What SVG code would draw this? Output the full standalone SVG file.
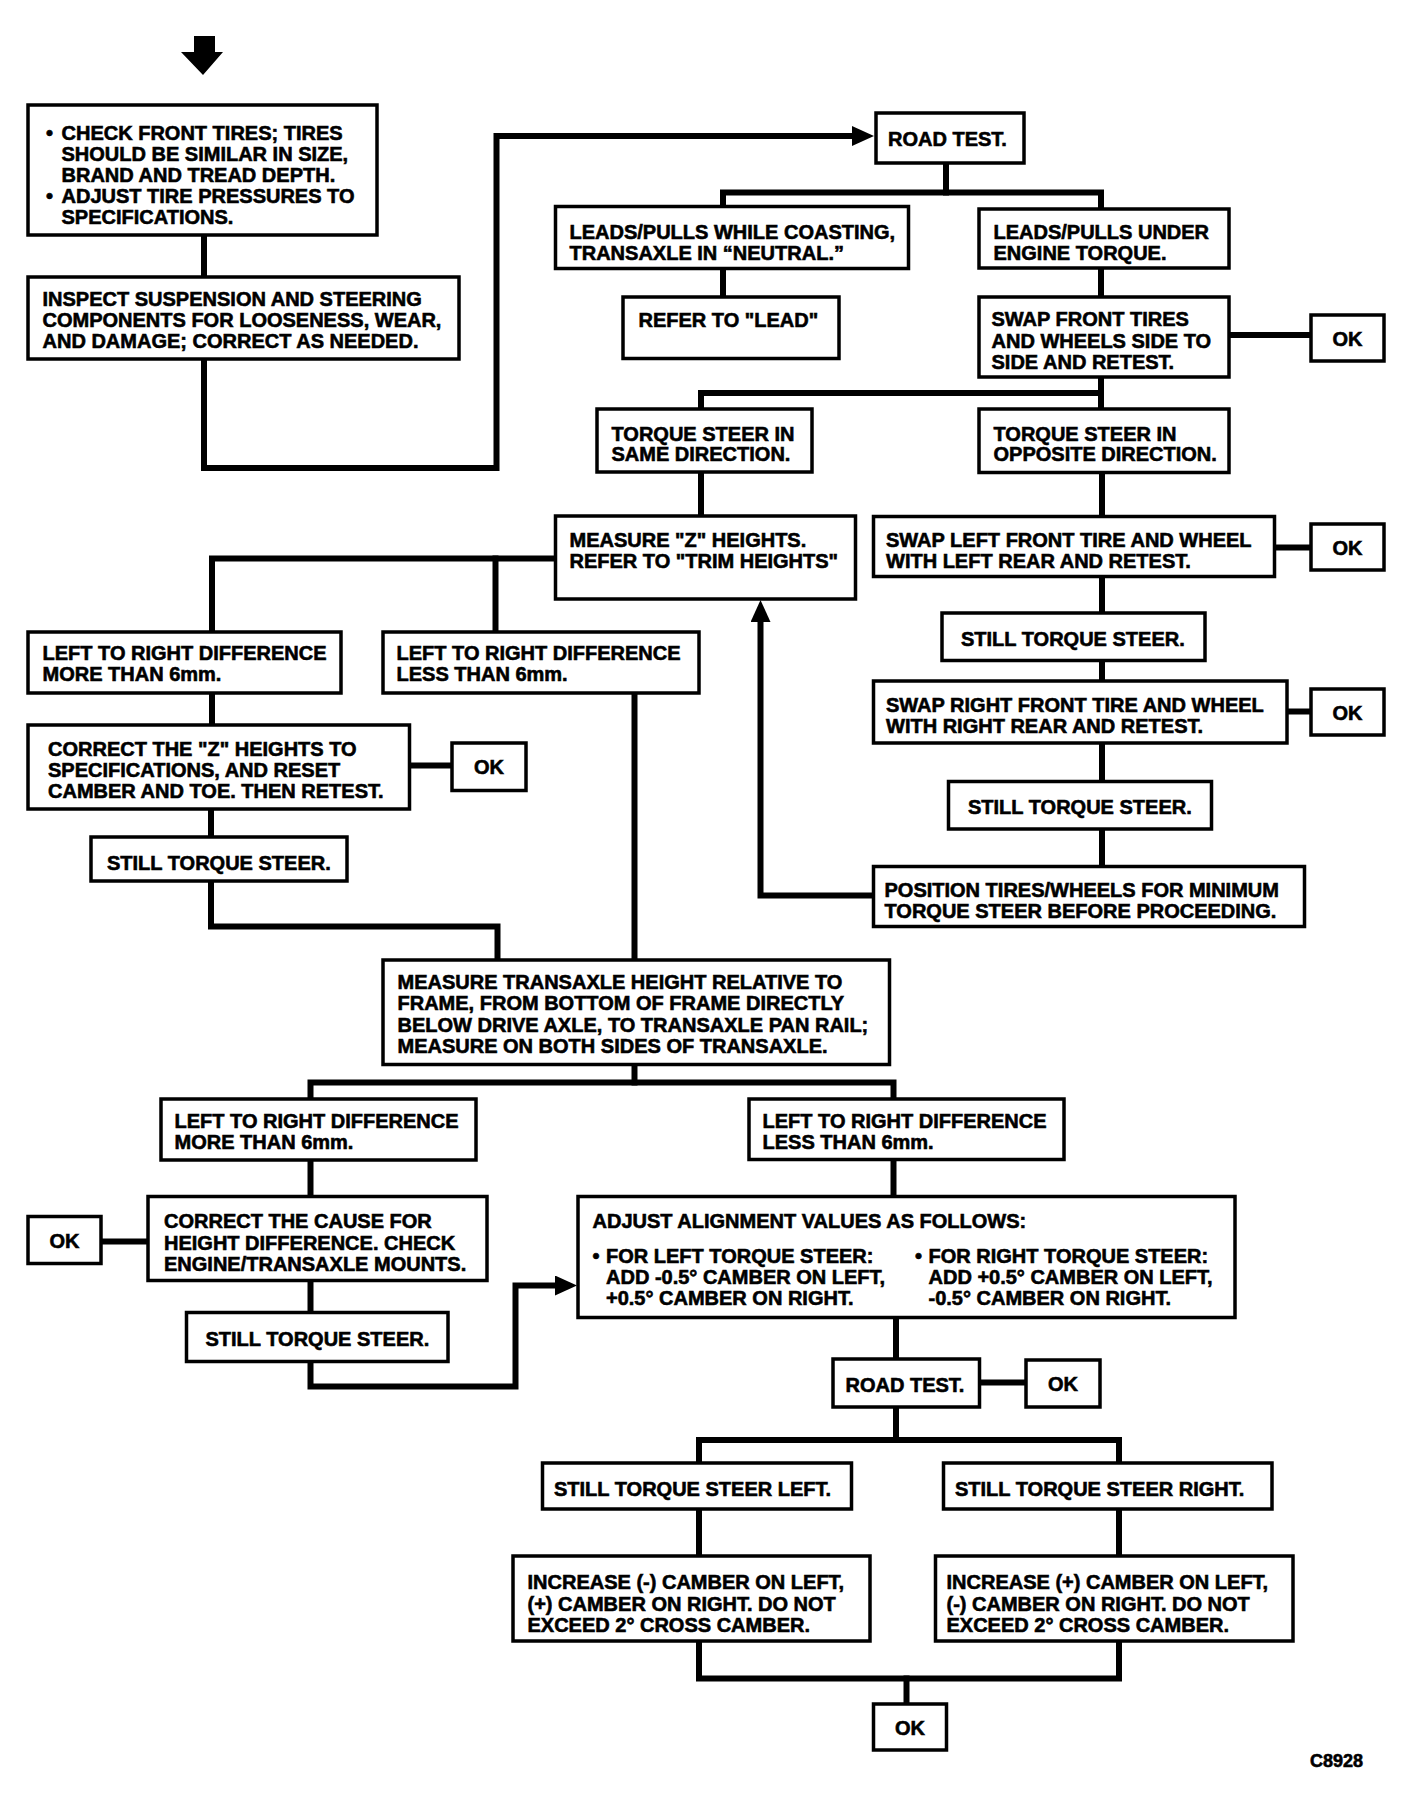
<svg xmlns="http://www.w3.org/2000/svg" width="1408" height="1796" viewBox="0 0 1408 1796">
<defs>
<style>
.b{fill:#fff;stroke:#000;stroke-width:3.5}
.c{fill:none;stroke:#000;stroke-width:6;stroke-linejoin:miter;stroke-linecap:square}
.t{font-family:"Liberation Sans",Arial,Helvetica,sans-serif;font-weight:bold;font-size:20px;fill:#000;stroke:#000;stroke-width:0.6}
.m{text-anchor:middle}
</style>
<marker id="ah" markerUnits="userSpaceOnUse" markerWidth="22" markerHeight="20" refX="10" refY="10" orient="auto">
<path d="M0,0 L22,10 L0,20 z" fill="#000"/>
</marker>
</defs>
<rect width="1408" height="1796" fill="#fff"/>

<g id="start-arrow">
<polygon points="194,36 215,36 215,52 223,52 203,75 181,52 194,52" fill="#000"/>
</g>

<g id="connectors">
<path class="c" d="M204 235 V277"/>
<path class="c" d="M204 359 V468 H496.5 V136 H862" marker-end="url(#ah)"/>
<path class="c" d="M946 163 V192.5"/>
<path class="c" d="M723 207 V192.5 H1101 V209"/>
<path class="c" d="M723 268 V297"/>
<path class="c" d="M1101 268 V297"/>
<path class="c" d="M1229 335 H1311"/>
<path class="c" d="M1101 377 V409"/>
<path class="c" d="M701 409 V393 H1101"/>
<path class="c" d="M701 472 V516"/>
<path class="c" d="M1102 473 V517"/>
<path class="c" d="M555 558.5 H212 V632"/>
<path class="c" d="M495.5 558.5 V632"/>
<path class="c" d="M212 693 V725"/>
<path class="c" d="M409 765.5 H452"/>
<path class="c" d="M211 809 V837"/>
<path class="c" d="M211 881 V926.5 H497.5 V960"/>
<path class="c" d="M634.5 693 V960"/>
<path class="c" d="M1274 547.5 H1311"/>
<path class="c" d="M1102 577 V613"/>
<path class="c" d="M1102 661 V681"/>
<path class="c" d="M1287 711.5 H1311"/>
<path class="c" d="M1102 743 V782"/>
<path class="c" d="M1102 829 V867"/>
<path class="c" d="M873 895.5 H760.5 V612" marker-end="url(#ah)"/>
<path class="c" d="M634.5 1064 V1082.5"/>
<path class="c" d="M310.5 1099 V1082.5 H893.5 V1099"/>
<path class="c" d="M310.5 1160 V1197"/>
<path class="c" d="M148 1241.5 H101"/>
<path class="c" d="M310.5 1281 V1313"/>
<path class="c" d="M310.5 1362 V1386.5 H515.5 V1285.5 H565" marker-end="url(#ah)"/>
<path class="c" d="M893.5 1159 V1197"/>
<path class="c" d="M896 1317 V1359"/>
<path class="c" d="M979 1382.5 H1026"/>
<path class="c" d="M896 1407 V1440"/>
<path class="c" d="M699 1463 V1440 H1119 V1463"/>
<path class="c" d="M699 1509 V1556"/>
<path class="c" d="M1119 1509 V1556"/>
<path class="c" d="M699 1641 V1678.5 H1119 V1641"/>
<path class="c" d="M906.5 1678.5 V1704"/>
</g>

<g id="n-check-tires">
<rect class="b" x="28" y="105" width="349" height="130"/>
<text class="t"><tspan x="46" y="139.5">•</tspan><tspan x="61.5" y="139.5">CHECK FRONT TIRES; TIRES</tspan><tspan x="61.5" y="160.5">SHOULD BE SIMILAR IN SIZE,</tspan><tspan x="61.5" y="181.5">BRAND AND TREAD DEPTH.</tspan><tspan x="46" y="202.5">•</tspan><tspan x="61.5" y="202.5">ADJUST TIRE PRESSURES TO</tspan><tspan x="61.5" y="223.5">SPECIFICATIONS.</tspan></text>
</g>

<g id="n-inspect">
<rect class="b" x="28" y="277" width="431" height="82"/>
<text class="t"><tspan x="42.5" y="306">INSPECT SUSPENSION AND STEERING</tspan><tspan x="42.5" y="327">COMPONENTS FOR LOOSENESS, WEAR,</tspan><tspan x="42.5" y="348">AND DAMAGE; CORRECT AS NEEDED.</tspan></text>
</g>

<g id="n-road-test-1">
<rect class="b" x="876" y="113" width="148" height="50"/>
<text class="t" x="888" y="146">ROAD TEST.</text>
</g>

<g id="n-coasting">
<rect class="b" x="555.5" y="206.5" width="353" height="62"/>
<text class="t"><tspan x="569.5" y="239">LEADS/PULLS WHILE COASTING,</tspan><tspan x="569.5" y="260">TRANSAXLE IN “NEUTRAL.”</tspan></text>
</g>

<g id="n-under-torque">
<rect class="b" x="979" y="209" width="250" height="59"/>
<text class="t"><tspan x="993.5" y="239">LEADS/PULLS UNDER</tspan><tspan x="993.5" y="260">ENGINE TORQUE.</tspan></text>
</g>

<g id="n-refer-lead">
<rect class="b" x="623" y="297" width="216" height="61.5"/>
<text class="t" x="638.5" y="326.5">REFER TO "LEAD"</text>
</g>

<g id="n-swap-front">
<rect class="b" x="979" y="297" width="250" height="80"/>
<text class="t"><tspan x="991.5" y="326">SWAP FRONT TIRES</tspan><tspan x="991.5" y="347.5">AND WHEELS SIDE TO</tspan><tspan x="991.5" y="369">SIDE AND RETEST.</tspan></text>
</g>

<g id="n-ok-1">
<rect class="b" x="1311" y="315" width="73" height="46"/>
<text class="t m" x="1347.5" y="345.5">OK</text>
</g>

<g id="n-same-dir">
<rect class="b" x="597" y="409" width="215" height="63"/>
<text class="t"><tspan x="611.5" y="440.5">TORQUE STEER IN</tspan><tspan x="611.5" y="461">SAME DIRECTION.</tspan></text>
</g>

<g id="n-opp-dir">
<rect class="b" x="979" y="409" width="250" height="63.5"/>
<text class="t"><tspan x="993.5" y="440.5">TORQUE STEER IN</tspan><tspan x="993.5" y="461">OPPOSITE DIRECTION.</tspan></text>
</g>

<g id="n-measure-z">
<rect class="b" x="555.5" y="516" width="300" height="83"/>
<text class="t"><tspan x="569.5" y="546.5">MEASURE "Z" HEIGHTS.</tspan><tspan x="569.5" y="567.5">REFER TO "TRIM HEIGHTS"</tspan></text>
</g>

<g id="n-swap-left">
<rect class="b" x="873.5" y="516.5" width="401" height="60"/>
<text class="t"><tspan x="886" y="546.5">SWAP LEFT FRONT TIRE AND WHEEL</tspan><tspan x="886" y="567.5">WITH LEFT REAR AND RETEST.</tspan></text>
</g>

<g id="n-ok-2">
<rect class="b" x="1311" y="524" width="73" height="46"/>
<text class="t m" x="1347.5" y="554.5">OK</text>
</g>

<g id="n-more-1">
<rect class="b" x="28" y="632" width="313" height="61"/>
<text class="t"><tspan x="42.5" y="660">LEFT TO RIGHT DIFFERENCE</tspan><tspan x="42.5" y="681">MORE THAN 6mm.</tspan></text>
</g>

<g id="n-less-1">
<rect class="b" x="383" y="632" width="316" height="61"/>
<text class="t"><tspan x="396.5" y="660">LEFT TO RIGHT DIFFERENCE</tspan><tspan x="396.5" y="681">LESS THAN 6mm.</tspan></text>
</g>

<g id="n-still-r1">
<rect class="b" x="942" y="613" width="263" height="47.5"/>
<text class="t" x="961" y="646">STILL TORQUE STEER.</text>
</g>

<g id="n-swap-right">
<rect class="b" x="873.5" y="681" width="413.5" height="62"/>
<text class="t"><tspan x="886" y="711.5">SWAP RIGHT FRONT TIRE AND WHEEL</tspan><tspan x="886" y="732.5">WITH RIGHT REAR AND RETEST.</tspan></text>
</g>

<g id="n-ok-4">
<rect class="b" x="1311" y="689" width="73" height="46"/>
<text class="t m" x="1347.5" y="719.5">OK</text>
</g>

<g id="n-correct-z">
<rect class="b" x="28" y="725" width="381.5" height="84"/>
<text class="t"><tspan x="48" y="756">CORRECT THE "Z" HEIGHTS TO</tspan><tspan x="48" y="777">SPECIFICATIONS, AND RESET</tspan><tspan x="48" y="798">CAMBER AND TOE. THEN RETEST.</tspan></text>
</g>

<g id="n-ok-3">
<rect class="b" x="452" y="743" width="74" height="47.5"/>
<text class="t m" x="489" y="774">OK</text>
</g>

<g id="n-still-r2">
<rect class="b" x="948.5" y="781.5" width="263" height="47.5"/>
<text class="t" x="968" y="814">STILL TORQUE STEER.</text>
</g>

<g id="n-still-1">
<rect class="b" x="91" y="837" width="256" height="44"/>
<text class="t" x="107" y="870">STILL TORQUE STEER.</text>
</g>

<g id="n-position">
<rect class="b" x="873.5" y="866.5" width="431" height="60"/>
<text class="t"><tspan x="884.5" y="896.5">POSITION TIRES/WHEELS FOR MINIMUM</tspan><tspan x="884.5" y="918">TORQUE STEER BEFORE PROCEEDING.</tspan></text>
</g>

<g id="n-measure-transaxle">
<rect class="b" x="383" y="960" width="506.5" height="104.5"/>
<text class="t"><tspan x="397.5" y="988.5">MEASURE TRANSAXLE HEIGHT RELATIVE TO</tspan><tspan x="397.5" y="1010">FRAME, FROM BOTTOM OF FRAME DIRECTLY</tspan><tspan x="397.5" y="1031.5">BELOW DRIVE AXLE, TO TRANSAXLE PAN RAIL;</tspan><tspan x="397.5" y="1052.5">MEASURE ON BOTH SIDES OF TRANSAXLE.</tspan></text>
</g>

<g id="n-more-2">
<rect class="b" x="161" y="1099" width="315" height="61"/>
<text class="t"><tspan x="174.5" y="1127.5">LEFT TO RIGHT DIFFERENCE</tspan><tspan x="174.5" y="1149">MORE THAN 6mm.</tspan></text>
</g>

<g id="n-less-2">
<rect class="b" x="749" y="1099" width="315" height="60.5"/>
<text class="t"><tspan x="762.5" y="1127.5">LEFT TO RIGHT DIFFERENCE</tspan><tspan x="762.5" y="1149">LESS THAN 6mm.</tspan></text>
</g>

<g id="n-correct-cause">
<rect class="b" x="148" y="1196.5" width="339" height="84"/>
<text class="t"><tspan x="164" y="1228">CORRECT THE CAUSE FOR</tspan><tspan x="164" y="1249.5">HEIGHT DIFFERENCE. CHECK</tspan><tspan x="164" y="1270.5">ENGINE/TRANSAXLE MOUNTS.</tspan></text>
</g>

<g id="n-ok-5">
<rect class="b" x="28" y="1216.5" width="73" height="47"/>
<text class="t m" x="64.5" y="1247.5">OK</text>
</g>

<g id="n-still-3">
<rect class="b" x="186.5" y="1312.5" width="261.5" height="49"/>
<text class="t" x="205.5" y="1346">STILL TORQUE STEER.</text>
</g>

<g id="n-adjust">
<rect class="b" x="578" y="1196.5" width="657" height="121"/>
<text class="t"><tspan x="592.5" y="1228">ADJUST ALIGNMENT VALUES AS FOLLOWS:</tspan><tspan x="592.5" y="1263">•</tspan><tspan x="606" y="1263">FOR LEFT TORQUE STEER:</tspan><tspan x="606" y="1284">ADD -0.5° CAMBER ON LEFT,</tspan><tspan x="606" y="1304.5">+0.5° CAMBER ON RIGHT.</tspan><tspan x="915" y="1263">•</tspan><tspan x="928.5" y="1263">FOR RIGHT TORQUE STEER:</tspan><tspan x="928.5" y="1284">ADD +0.5° CAMBER ON LEFT,</tspan><tspan x="928.5" y="1304.5">-0.5° CAMBER ON RIGHT.</tspan></text>
</g>

<g id="n-road-test-2">
<rect class="b" x="833" y="1359" width="146.5" height="48"/>
<text class="t" x="845.5" y="1392">ROAD TEST.</text>
</g>

<g id="n-ok-6">
<rect class="b" x="1026" y="1360" width="74" height="47"/>
<text class="t m" x="1063" y="1391">OK</text>
</g>

<g id="n-still-left">
<rect class="b" x="542.5" y="1463" width="309" height="46"/>
<text class="t" x="554" y="1496">STILL TORQUE STEER LEFT.</text>
</g>

<g id="n-still-right">
<rect class="b" x="943.5" y="1463" width="328.5" height="46"/>
<text class="t" x="955" y="1496">STILL TORQUE STEER RIGHT.</text>
</g>

<g id="n-increase-neg">
<rect class="b" x="513" y="1556" width="357" height="85"/>
<text class="t"><tspan x="527.5" y="1589">INCREASE (-) CAMBER ON LEFT,</tspan><tspan x="527.5" y="1610.5">(+) CAMBER ON RIGHT. DO NOT</tspan><tspan x="527.5" y="1631.5">EXCEED 2° CROSS CAMBER.</tspan></text>
</g>

<g id="n-increase-pos">
<rect class="b" x="935.5" y="1556" width="357.5" height="85"/>
<text class="t"><tspan x="946.5" y="1589">INCREASE (+) CAMBER ON LEFT,</tspan><tspan x="946.5" y="1610.5">(-) CAMBER ON RIGHT. DO NOT</tspan><tspan x="946.5" y="1631.5">EXCEED 2° CROSS CAMBER.</tspan></text>
</g>

<g id="n-ok-7">
<rect class="b" x="873.5" y="1704" width="73" height="46"/>
<text class="t m" x="910" y="1734.5">OK</text>
</g>

<text class="t" x="1310" y="1766.5" style="font-size:18px">C8928</text>
</svg>
